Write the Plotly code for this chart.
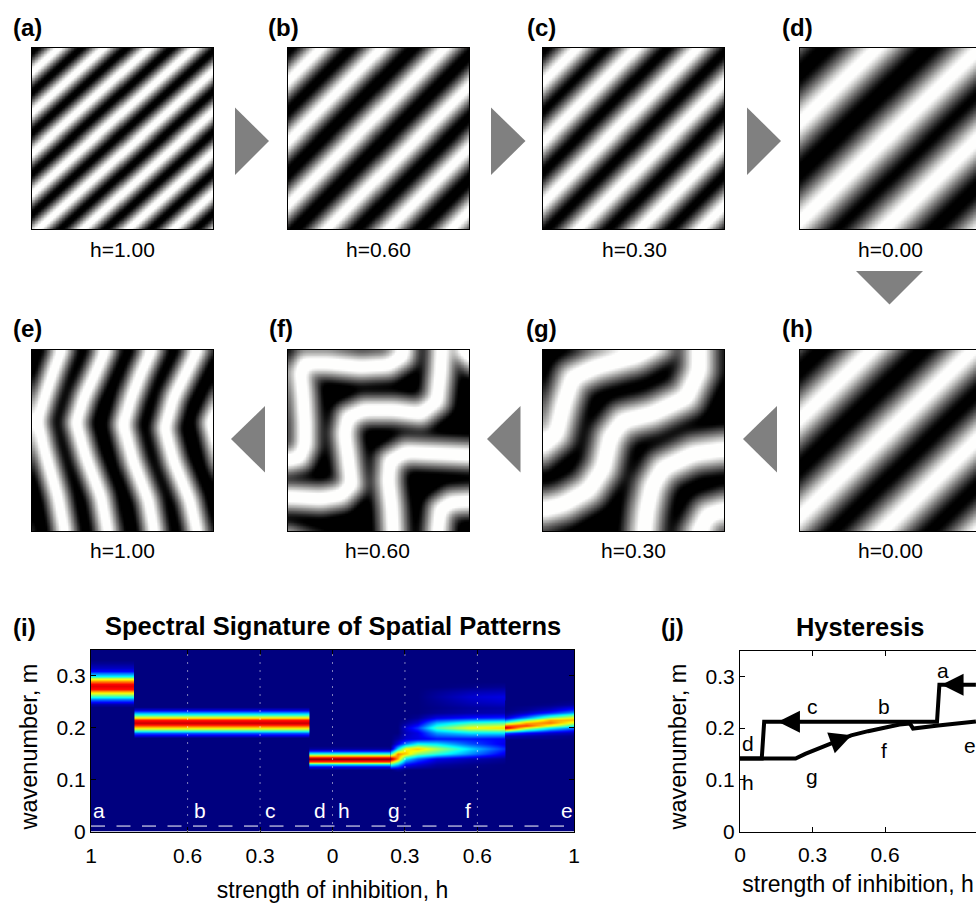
import numpy as np
import plotly.graph_objects as go

W, H = 976, 904
FONT = "Liberation Sans"

# ---------- pattern panels: white ridge lines (percent of panel, y down) ----------
STRIPE_INTERCEPTS = {
    "a": [-12, 14, 39, 64, 89, 114, 139, 164, 189, 214],
    "b": [-17, 17.5, 51, 86, 121, 155, 190, 224],
    "c": [-16, 18, 51, 85, 119, 153, 187, 221],
    "d": [-15, 42, 99, 150, 205],
    "h": [-17, 39, 95, 149, 203],
}
STRIPE_SLOPES = {"a": 0.9, "b": 1.0, "c": 1.0, "d": 0.96, "h": 0.96}
RIDGES_E = [
    [(-8, 0), (-20, 26), (-25, 40), (-20, 60), (-12, 83), (-7, 100)],
    [(17.5, -4), (12, 10), (6.5, 26), (2.7, 39), (6.5, 55), (14, 81), (18.5, 104)],
    [(42, -4), (35, 12), (28.5, 26), (24, 40), (29.6, 59), (38, 81), (42.5, 104)],
    [(67.5, -4), (60, 12), (54.5, 26), (50, 41), (55.5, 61), (64, 83), (68, 104)],
    [(93, -4), (85, 12), (78, 26), (73, 43), (78, 61), (87, 83), (92, 104)],
    [(120, -4), (105, 26), (98.5, 40), (104, 61), (113, 83), (118, 104)],
]
RIDGES_F = [
    [(-2, 61), (6, 59), (9, 52), (9, 40), (8, 26), (6.5, 12), (9, 7), (22, 7), (40, 9), (55, 8), (63, 3), (64, -4)],
    [(85, -4), (84, 12), (82, 28), (73, 35), (58, 33), (42, 33), (33, 37), (31, 46), (33, 59), (35, 74), (29, 80), (18, 82), (2, 81), (-4, 81)],
    [(104, 58), (85, 57), (65, 56), (56, 61), (55, 72), (57, 87), (58, 104)],
    [(104, 83), (90, 84), (84, 88), (82, 104)],
    [(104, -12), (97, 0), (104, 6)],
    [(-4, 104), (10, 108), (30, 112)],
]
RIDGES_G = [
    [(-4, 55), (7, 46), (11, 30), (16, 15), (29, 9), (51, 3), (64, -4)],
    [(86, -4), (86, 11), (79, 26), (60, 35), (44, 39), (37, 48), (33, 65), (25, 77), (11, 85), (-4, 89)],
    [(104, 54), (83, 57), (66, 65), (60, 75), (57, 88), (55, 104)],
    [(104, 87), (91, 91), (84, 104)],
]
HALF_PERIOD = {"a": 9, "b": 12.5, "c": 13, "d": 20, "h": 20, "e": 12.5, "f": 15, "g": 19}
BLUR_PASSES = {"e": 3, "f": 3, "g": 4}
PANEL_LABELS = ["h=1.00", "h=0.60", "h=0.30", "h=0.00", "h=1.00", "h=0.60", "h=0.30", "h=0.00"]
PANEL_NAMES = ["a", "b", "c", "d", "e", "f", "g", "h"]

# ---------- panel (i): spectral bands ----------
M_A = [.240, .245, .250, .255, .260, .265, .270, .275, .280, .285, .290, .295, .300, .305, .310, .315, .320, .325, .330]
Z_A = [0, .04, .12, .25, .38, .55, .72, .86, .90, .88, .74, .56, .37, .24, .13, .07, .04, .02, 0]
M_B = [.180, .185, .190, .195, .200, .205, .210, .215, .220, .225, .230, .235, .240]
Z_B = [0, .08, .22, .42, .65, .85, .93, .85, .65, .42, .22, .08, 0]
M_D = [.120, .125, .130, .135, .140, .145, .150, .155, .160, .165]
Z_D = [0, .10, .40, .80, 1.0, .80, .42, .14, .03, 0]
H_SPANS = {"a": (-1.0, -0.82), "b": (-0.82, -0.096), "d": (-0.096, 0.24)}

H_G = [.24, .27, .30, .35, .43, .57, .715]
M_G = [.12, .13, .14, .15, .16, .17, .18, .19, .20, .21, .22, .23, .24, .25, .26, .27, .28, .29]
Z_G = [
    [0, .02, 0, 0, 0, 0, 0],
    [.40, .30, .12, .08, .03, .01, 0],
    [1.0, .72, .35, .22, .10, .05, .02],
    [.42, .75, .68, .52, .42, .26, .10],
    [.03, .35, .62, .68, .55, .34, .16],
    [0, .10, .25, .38, .35, .20, .10],
    [0, .03, .08, .10, .14, .14, .12],
    [0, 0, .06, .10, .28, .36, .36],
    [0, 0, .08, .18, .45, .62, .66],
    [0, 0, .03, .08, .30, .42, .46],
    [0, 0, 0, .02, .10, .14, .16],
    [0, 0, 0, 0, .02, .04, .05],
    [0, 0, 0, 0, .01, .03, .04],
    [0, 0, 0, 0, .02, .06, .08],
    [0, 0, 0, 0, .03, .08, .10],
    [0, 0, 0, 0, .02, .05, .06],
    [0, 0, 0, 0, 0, .01, .02],
    [0, 0, 0, 0, 0, 0, 0],
]
H_E = [.715, .80, .90, 1.0]
M_E = [.180, .185, .190, .195, .200, .205, .210, .215, .220, .225, .230, .235, .240, .245, .250]
Z_E = [
    [.02, .01, .01, 0],
    [.06, .04, .02, .01],
    [.22, .14, .08, .05],
    [.55, .34, .20, .12],
    [.95, .62, .38, .24],
    [.80, .82, .60, .40],
    [.48, .70, .76, .58],
    [.22, .46, .70, .70],
    [.09, .26, .50, .62],
    [.03, .13, .30, .45],
    [.01, .06, .16, .28],
    [0, .02, .07, .16],
    [0, .01, .03, .08],
    [0, 0, .01, .03],
    [0, 0, 0, .01],
]
I_TICKS = [-1, -.6, -.3, 0, .3, .6, 1]
I_TICKTEXT = ["1", "0.6", "0.3", "0", "0.3", "0.6", "1"]
I_GUIDES = [-.6, -.3, 0, .3, .6]
I_LETTERS = {"a": -.967, "b": -.548, "c": -.255, "d": -.05, "h": .046, "g": .255, "f": .56, "e": .97}

# ---------- panel (j): hysteresis paths ----------
DOWN_H = [.976, .825, .815, .10, .09, 0]
DOWN_M = [.284, .284, .212, .212, .141, .141]
UP_H = [0, .23, .27, .32, .46, .53, .60, .66, .703, .716, .82, .976]
UP_M = [.141, .141, .150, .160, .186, .194, .202, .207, .209, .199, .205, .2127]
J_TICKS = [0, .3, .6, 1]
J_LETTERS = {"a": (.84, .312), "b": (.596, .242), "c": (.298, .242), "d": (.032, .170),
             "h": (.033, .095), "g": (.298, .106), "f": (.596, .157), "e": (.952, .166)}
M_TICKS = [0, .1, .2, .3]

# ---------- geometry (pixels) ----------
PANEL_X = [32, 288, 543, 800]
PANEL_Y = [(48, 229), (350, 531)]
PANEL_W = 181


def xd(p):
    return min(p / W, 1)


def yd(p):
    return 1 - p / H


def ridge_distance(polys, gx, gy):
    best = np.full(gx.shape, np.inf)
    for poly in polys:
        pts = np.array(poly, float)
        for (x0, y0), (x1, y1) in zip(pts[:-1], pts[1:]):
            dx, dy = x1 - x0, y1 - y0
            t = np.clip(((gx - x0) * dx + (gy - y0) * dy) / (dx * dx + dy * dy), 0, 1)
            best = np.minimum(best, np.hypot(gx - x0 - t * dx, gy - y0 - t * dy))
    return best


def panel_ridges(name):
    if name in STRIPE_INTERCEPTS:
        s = STRIPE_SLOPES[name]
        return [[(k + 200 / s, -200), (k - 300 / s, 300)] for k in STRIPE_INTERCEPTS[name]]
    return {"e": RIDGES_E, "f": RIDGES_F, "g": RIDGES_G}[name]


def soften(z, passes):
    for _ in range(passes):
        p = np.pad(z, 2, mode="edge")
        z = sum(p[2 + a:p.shape[0] - 2 + a, 2 + b:p.shape[1] - 2 + b] for a in (-2, -1, 0, 1, 2) for b in (-2, -1, 0, 1, 2)) / 25
    return z


grid = np.linspace(0, 100, 121)
GX, GY = np.meshgrid(grid, grid)

fig = go.Figure()
layout = {}
annotations = []
shapes = []


def label(text, px, py, size, bold=False, color="black", angle=0):
    annotations.append(dict(text=f"<b>{text}</b>" if bold else text, x=px / W, y=1 - py / H, xref="paper", yref="paper",
                            showarrow=False, xanchor="center", yanchor="middle", textangle=angle,
                            font=dict(family=FONT, size=size, color=color)))


for i, name in enumerate(PANEL_NAMES):
    n = "" if i == 0 else str(i + 1)
    x0 = PANEL_X[i % 4]
    y0, y1 = PANEL_Y[i // 4]
    d = ridge_distance(panel_ridges(name), GX, GY)
    c = np.cos(np.pi * np.minimum(d / HALF_PERIOD[name], 1))
    if name in BLUR_PASSES:
        z = soften(0.5 + 0.6 * c, BLUR_PASSES[name])
        z = 0.46 + (z - 0.5) * 1.15
    else:
        z = 0.48 + 0.56 * c
    z = np.clip(z, 0, 1)
    fig.add_trace(go.Heatmap(x=grid, y=grid, z=np.round(z, 3), colorscale="Gray", zmin=0, zmax=1, showscale=False,
                             zsmooth="best", xaxis="x" + n, yaxis="y" + n, hoverinfo="skip"))
    xr = min(100, (W - x0) / PANEL_W * 100)
    layout["xaxis" + n] = dict(domain=[xd(x0), xd(x0 + PANEL_W)], range=[0, xr], showticklabels=False, ticks="",
                               showgrid=False, zeroline=False, showline=True, linecolor="black", linewidth=1,
                               mirror=True, anchor="y" + n)
    layout["yaxis" + n] = dict(domain=[yd(y1), yd(y0)], range=[100, 0], showticklabels=False, ticks="",
                               showgrid=False, zeroline=False, showline=True, linecolor="black", linewidth=1,
                               mirror=True, anchor="x" + n)

# tag labels and captions
for txt, px, py in [("(a)", 27.5, 27), ("(b)", 283.5, 27), ("(c)", 541, 27), ("(d)", 797, 27),
                    ("(e)", 27.5, 328), ("(f)", 281, 328), ("(g)", 541, 328), ("(h)", 797, 328),
                    ("(i)", 24, 627), ("(j)", 672, 627)]:
    label(txt, px, py, 24, bold=True)
for txt, px, py in zip(PANEL_LABELS, [122, 378, 634, 890, 122, 377, 633, 890], [249] * 4 + [550] * 4):
    label(txt, px, py, 21)
label("Spectral Signature of Spatial Patterns", 332.5, 626, 25.5, bold=True)
label("Hysteresis", 860, 627, 25.4, bold=True)
label("wavenumber, m", 28, 747.5, 23.5, angle=-90)
label("wavenumber, m", 677, 747.5, 23.5, angle=-90)

# grey flow arrows
GREY = "#808080"
for pp in [[(235, 107.5), (269, 141), (235, 175)], [(491, 107.5), (525.5, 141), (491, 175)], [(747, 107.5), (781, 141), (747, 175)],
           [(856, 271), (923, 271), (889.5, 304.5)], [(265, 406), (231, 439), (265, 472.5)], [(520.5, 406), (487, 439), (520.5, 472.5)],
           [(777, 406), (743, 439), (777, 472.5)]]:
    sp = "M " + " L ".join(f"{a / W:.5f},{1 - b / H:.5f}" for a, b in pp) + " Z"
    shapes.append(dict(type="path", path=sp, xref="paper", yref="paper", fillcolor=GREY, line=dict(width=0)))

# ---------- panel (i) ----------
JET = [[0, "#00007f"], [.125, "#0000ff"], [.375, "#00ffff"], [.625, "#ffff00"], [.875, "#ff0000"], [1, "#7f0000"]]


def band(hs, ms, zz):
    zz = np.array(zz, float)
    hs = list(hs)
    xs = [hs[0], hs[0] + 1e-4] + hs[1:-1] + [hs[-1] - 1e-4, hs[-1]]
    cols = np.column_stack([zz[:, 0], zz[:, 0]] + [zz[:, j] for j in range(1, zz.shape[1] - 1)] + [zz[:, -1], zz[:, -1]])
    fig.add_trace(go.Heatmap(x=xs, y=ms, z=cols, colorscale=JET, zmin=0, zmax=1, showscale=False, zsmooth="best",
                             xaxis="x9", yaxis="y9", hoverinfo="skip"))


band(H_SPANS["a"], M_A, np.column_stack([Z_A, Z_A]))
band(H_SPANS["b"], M_B, np.column_stack([Z_B, Z_B]))
band(H_SPANS["d"], M_D, np.column_stack([Z_D, Z_D]))
band(H_G, M_G, Z_G)
band(H_E, M_E, Z_E)

shapes.append(dict(type="rect", xref="x9", yref="y9", x0=-1, x1=1, y0=0, y1=.35, fillcolor="#00007f",
                   line=dict(width=0), layer="below"))
for g in I_GUIDES:
    shapes.append(dict(type="line", xref="x9", yref="y9", x0=g, x1=g, y0=0, y1=.35,
                       line=dict(color="white", width=1, dash="1px,7px")))
shapes.append(dict(type="line", xref="x9", yref="y9", x0=-1, x1=1, y0=.0105, y1=.0105,
                   line=dict(color="white", width=1, dash="14px,11.5px")))
for k, v in I_LETTERS.items():
    annotations.append(dict(text=k, x=v, y=.041, xref="x9", yref="y9", showarrow=False,
                            font=dict(family=FONT, size=21, color="white")))


def axis_common(mirror="ticks"):
    return dict(showgrid=False, zeroline=False, showline=True, linecolor="black", linewidth=1, mirror=mirror,
                ticks="inside", ticklen=5, tickwidth=1, tickcolor="black",
                tickfont=dict(family=FONT, size=21, color="black"))


layout["xaxis9"] = dict(domain=[xd(91), xd(574)], range=[-1, 1], tickmode="array", tickvals=I_TICKS, ticktext=I_TICKTEXT,
                        anchor="y9", ticklabelstandoff=5,
                        title=dict(text="strength of inhibition, h", standoff=16, font=dict(family=FONT, size=23, color="black")),
                        **axis_common())
layout["yaxis9"] = dict(domain=[yd(831.5), yd(650)], range=[0, .35], tickmode="array", tickvals=M_TICKS,
                        ticktext=["0", "0.1", "0.2", "0.3"], anchor="x9", ticklabelstandoff=0,
                        **axis_common())

# ---------- panel (j) ----------
LINE = dict(color="black", width=4)
fig.add_trace(go.Scatter(x=DOWN_H, y=DOWN_M, mode="lines", line=LINE, xaxis="x10", yaxis="y10", hoverinfo="skip", showlegend=False))
fig.add_trace(go.Scatter(x=UP_H, y=UP_M, mode="lines", line=LINE, xaxis="x10", yaxis="y10", hoverinfo="skip", showlegend=False))
for tip, tail in [((.157, .212), (.24, .212)), ((.834, .284), (.93, .284)), ((.462, .186), (.38, .172))]:
    annotations.append(dict(text="", x=tip[0], y=tip[1], ax=tail[0], ay=tail[1], xref="x10", yref="y10", axref="x10", ayref="y10",
                            showarrow=True, arrowhead=2, arrowsize=1.1, arrowwidth=4, arrowcolor="black"))
for k, (a, b) in J_LETTERS.items():
    annotations.append(dict(text=k, x=a, y=b, xref="x10", yref="y10", showarrow=False,
                            font=dict(family=FONT, size=21, color="black")))
layout["xaxis10"] = dict(domain=[xd(740), 1], range=[0, (W - 740) / 241.7], tickmode="array", tickvals=J_TICKS,
                         ticktext=["0", "0.3", "0.6", "1"], anchor="y10", ticklabelstandoff=4,
                         title=dict(text="strength of inhibition, h", standoff=11, font=dict(family=FONT, size=23, color="black")),
                         **axis_common())
layout["yaxis10"] = dict(domain=[yd(831.5), yd(650.5)], range=[0, .35], tickmode="array", tickvals=M_TICKS,
                         ticktext=["0", "0.1", "0.2", "0.3"], anchor="x10", ticklabelstandoff=0,
                         **axis_common(mirror=False))

fig.update_layout(width=W, height=H, margin=dict(l=0, r=0, t=0, b=0, autoexpand=False), paper_bgcolor="white", plot_bgcolor="white",
                  showlegend=False, annotations=annotations, shapes=shapes, font=dict(family=FONT), **layout)
fig.write_html("out.html", config={"displayModeBar": False},
               post_script="document.body.style.margin='0';document.body.style.overflow='hidden';")
